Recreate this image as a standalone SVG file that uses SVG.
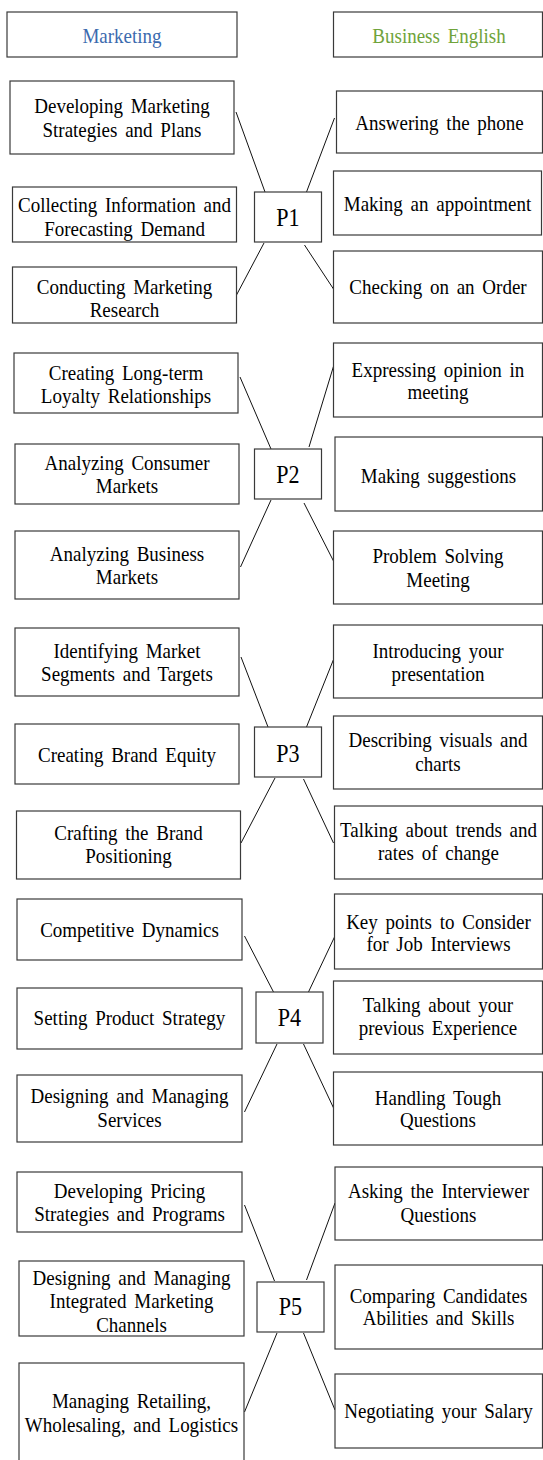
<svg xmlns="http://www.w3.org/2000/svg" width="543" height="1460" viewBox="0 0 543 1460">
<style>
.box{fill:#fff;stroke:#3a3a3a;stroke-width:1.2}
.t{font-family:'Liberation Serif','Times New Roman',serif;font-size:21.5px;text-anchor:middle;word-spacing:3.4px;fill:#000}
.p{font-size:26px;word-spacing:0}
.conn line{stroke:#111;stroke-width:1}
</style>
<rect x="0" y="0" width="543" height="1460" fill="#fff"/>
<g id="hdr-marketing"><rect class="box" x="7" y="12" width="230" height="45"/><text class="t" transform="translate(122,43) scale(0.884,1)" style="fill:#3B6AAE">Marketing</text></g>
<g id="hdr-business"><rect class="box" x="333.5" y="12" width="209" height="45"/><text class="t" transform="translate(439,43) scale(0.884,1)" style="fill:#6FA33A">Business English</text></g>

<g class="conn" id="connectors">
<line x1="236" y1="112" x2="265" y2="192"/>
<line x1="236.5" y1="295" x2="264" y2="243"/>
<line x1="334.5" y1="118" x2="306.5" y2="192"/>
<line x1="333.5" y1="289" x2="304.5" y2="245"/>
<line x1="240" y1="377" x2="271" y2="449"/>
<line x1="240.5" y1="567" x2="271" y2="500"/>
<line x1="334.5" y1="363" x2="309" y2="447"/>
<line x1="334.5" y1="563" x2="304" y2="503"/>
<line x1="241" y1="657" x2="268" y2="727"/>
<line x1="241" y1="843" x2="275" y2="778"/>
<line x1="334.5" y1="657" x2="306.5" y2="727"/>
<line x1="333.5" y1="843" x2="303.5" y2="779"/>
<line x1="244.5" y1="936" x2="273.5" y2="992"/>
<line x1="244.5" y1="1112" x2="277" y2="1044"/>
<line x1="334.5" y1="937" x2="308" y2="993"/>
<line x1="334.5" y1="1110" x2="303.5" y2="1044"/>
<line x1="244.5" y1="1205" x2="274.5" y2="1281"/>
<line x1="244.5" y1="1412" x2="277" y2="1333"/>
<line x1="335" y1="1203" x2="306.5" y2="1280"/>
<line x1="335" y1="1410" x2="303.5" y2="1333"/>
</g>

<g id="m1a"><rect class="box" x="10" y="81" width="224" height="73"/><text class="t" transform="translate(122,113) scale(0.884,1)">Developing Marketing</text><text class="t" transform="translate(122,137) scale(0.884,1)">Strategies and Plans</text></g>
<g id="m1b"><rect class="box" x="12.5" y="187" width="224" height="55"/><text class="t" transform="translate(124.5,212) scale(0.884,1)">Collecting Information and</text><text class="t" transform="translate(124.5,236) scale(0.884,1)">Forecasting Demand</text></g>
<g id="m1c"><rect class="box" x="12.5" y="267" width="224" height="56"/><text class="t" transform="translate(124.5,294) scale(0.884,1)">Conducting Marketing</text><text class="t" transform="translate(124.5,317) scale(0.884,1)">Research</text></g>
<g id="p1"><rect class="box" x="254.5" y="192" width="67" height="50"/><text class="t p" transform="translate(288,226) scale(0.85,1)">P1</text></g>
<g id="b1a"><rect class="box" x="336.5" y="91" width="206" height="62"/><text class="t" transform="translate(439.5,130) scale(0.884,1)">Answering the phone</text></g>
<g id="b1b"><rect class="box" x="333.5" y="171" width="208" height="64"/><text class="t" transform="translate(437.5,211) scale(0.884,1)">Making an appointment</text></g>
<g id="b1c"><rect class="box" x="333.5" y="251" width="209" height="72"/><text class="t" transform="translate(438,294) scale(0.884,1)">Checking on an Order</text></g>

<g id="m2a"><rect class="box" x="14" y="353" width="224" height="60"/><text class="t" transform="translate(126,380) scale(0.884,1)">Creating Long-term</text><text class="t" transform="translate(126,403) scale(0.884,1)">Loyalty Relationships</text></g>
<g id="m2b"><rect class="box" x="15" y="444" width="224" height="60"/><text class="t" transform="translate(127,470) scale(0.884,1)">Analyzing Consumer</text><text class="t" transform="translate(127,493) scale(0.884,1)">Markets</text></g>
<g id="m2c"><rect class="box" x="15" y="531" width="224" height="68"/><text class="t" transform="translate(127,561) scale(0.884,1)">Analyzing Business</text><text class="t" transform="translate(127,584) scale(0.884,1)">Markets</text></g>
<g id="p2"><rect class="box" x="254.5" y="449" width="67" height="50"/><text class="t p" transform="translate(288,483) scale(0.85,1)">P2</text></g>
<g id="b2a"><rect class="box" x="333.5" y="343" width="209" height="74"/><text class="t" transform="translate(438,377) scale(0.884,1)">Expressing opinion in</text><text class="t" transform="translate(438,399) scale(0.884,1)">meeting</text></g>
<g id="b2b"><rect class="box" x="335" y="437" width="207.5" height="74"/><text class="t" transform="translate(438.5,483) scale(0.884,1)">Making suggestions</text></g>
<g id="b2c"><rect class="box" x="333.5" y="531" width="209" height="73"/><text class="t" transform="translate(438,563) scale(0.884,1)">Problem Solving</text><text class="t" transform="translate(438,587) scale(0.884,1)">Meeting</text></g>

<g id="m3a"><rect class="box" x="15" y="628" width="224" height="68"/><text class="t" transform="translate(127,658) scale(0.884,1)">Identifying Market</text><text class="t" transform="translate(127,681) scale(0.884,1)">Segments and Targets</text></g>
<g id="m3b"><rect class="box" x="15" y="724" width="224" height="60"/><text class="t" transform="translate(127,762) scale(0.884,1)">Creating Brand Equity</text></g>
<g id="m3c"><rect class="box" x="16.5" y="811" width="224" height="68"/><text class="t" transform="translate(128.5,840) scale(0.884,1)">Crafting the Brand</text><text class="t" transform="translate(128.5,863) scale(0.884,1)">Positioning</text></g>
<g id="p3"><rect class="box" x="254.5" y="727" width="67" height="50"/><text class="t p" transform="translate(288,762) scale(0.85,1)">P3</text></g>
<g id="b3a"><rect class="box" x="333.5" y="625" width="209" height="73"/><text class="t" transform="translate(438,658) scale(0.884,1)">Introducing your</text><text class="t" transform="translate(438,681) scale(0.884,1)">presentation</text></g>
<g id="b3b"><rect class="box" x="333.5" y="716" width="209" height="73"/><text class="t" transform="translate(438,747) scale(0.884,1)">Describing visuals and</text><text class="t" transform="translate(438,771) scale(0.884,1)">charts</text></g>
<g id="b3c"><rect class="box" x="334.5" y="806" width="208" height="73"/><text class="t" transform="translate(438.5,837) scale(0.884,1)">Talking about trends and</text><text class="t" transform="translate(438.5,860) scale(0.884,1)">rates of change</text></g>

<g id="m4a"><rect class="box" x="17" y="899" width="225" height="61"/><text class="t" transform="translate(129.5,937) scale(0.884,1)">Competitive Dynamics</text></g>
<g id="m4b"><rect class="box" x="17" y="988" width="225" height="61"/><text class="t" transform="translate(129.5,1025) scale(0.884,1)">Setting Product Strategy</text></g>
<g id="m4c"><rect class="box" x="17" y="1075" width="225" height="67"/><text class="t" transform="translate(129.5,1103) scale(0.884,1)">Designing and Managing</text><text class="t" transform="translate(129.5,1127) scale(0.884,1)">Services</text></g>
<g id="p4"><rect class="box" x="256" y="992" width="67" height="51"/><text class="t p" transform="translate(289.5,1026) scale(0.85,1)">P4</text></g>
<g id="b4a"><rect class="box" x="334.5" y="894" width="208" height="75"/><text class="t" transform="translate(438.5,929) scale(0.884,1)">Key points to Consider</text><text class="t" transform="translate(438.5,951) scale(0.884,1)">for Job Interviews</text></g>
<g id="b4b"><rect class="box" x="333.5" y="981" width="209" height="73"/><text class="t" transform="translate(438,1012) scale(0.884,1)">Talking about your</text><text class="t" transform="translate(438,1035) scale(0.884,1)">previous Experience</text></g>
<g id="b4c"><rect class="box" x="333.5" y="1072" width="209" height="73"/><text class="t" transform="translate(438,1105) scale(0.884,1)">Handling Tough</text><text class="t" transform="translate(438,1127) scale(0.884,1)">Questions</text></g>

<g id="m5a"><rect class="box" x="17" y="1172" width="225" height="60"/><text class="t" transform="translate(129.5,1198) scale(0.884,1)">Developing Pricing</text><text class="t" transform="translate(129.5,1221) scale(0.884,1)">Strategies and Programs</text></g>
<g id="m5b"><rect class="box" x="19" y="1261" width="225" height="75"/><text class="t" transform="translate(131.5,1285) scale(0.884,1)">Designing and Managing</text><text class="t" transform="translate(131.5,1308) scale(0.884,1)">Integrated Marketing</text><text class="t" transform="translate(131.5,1332) scale(0.884,1)">Channels</text></g>
<g id="m5c"><rect class="box" x="19" y="1363" width="225" height="110"/><text class="t" transform="translate(131.5,1408) scale(0.884,1)">Managing Retailing,</text><text class="t" transform="translate(131.5,1432) scale(0.884,1)">Wholesaling, and Logistics</text></g>
<g id="p5"><rect class="box" x="257" y="1282" width="67" height="50"/><text class="t p" transform="translate(290.5,1315) scale(0.85,1)">P5</text></g>
<g id="b5a"><rect class="box" x="335" y="1167" width="207.5" height="73"/><text class="t" transform="translate(438.5,1198) scale(0.884,1)">Asking the Interviewer</text><text class="t" transform="translate(438.5,1222) scale(0.884,1)">Questions</text></g>
<g id="b5b"><rect class="box" x="335" y="1265" width="207.5" height="84"/><text class="t" transform="translate(438.5,1303) scale(0.884,1)">Comparing Candidates</text><text class="t" transform="translate(438.5,1325) scale(0.884,1)">Abilities and Skills</text></g>
<g id="b5c"><rect class="box" x="335" y="1374" width="207.5" height="74"/><text class="t" transform="translate(438.5,1418) scale(0.884,1)">Negotiating your Salary</text></g>
</svg>
